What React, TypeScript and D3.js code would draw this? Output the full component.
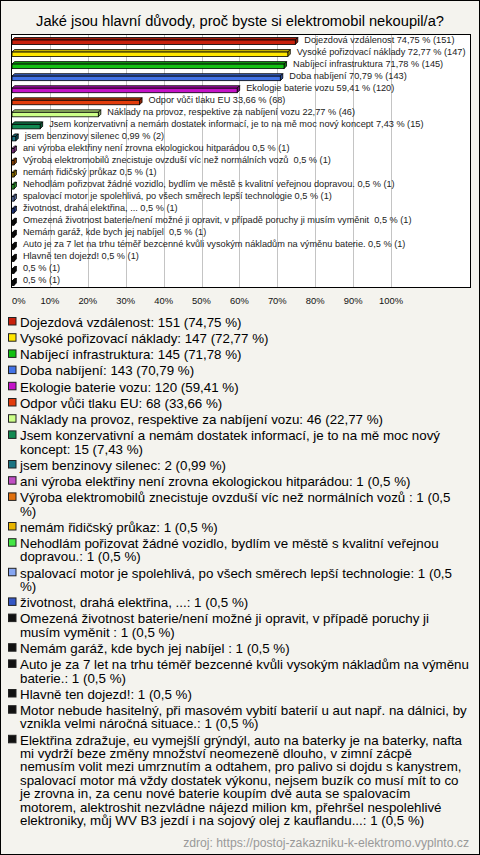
import React, { useMemo } from 'react';
import * as d3 from 'd3';

const WIDTH = 480;
const HEIGHT = 855;

const title = 'Jaké jsou hlavní důvody, proč byste si elektromobil nekoupil/a?';

const categories = [
  'Dojezdová vzdálenost',
  'Vysoké pořizovací náklady',
  'Nabíjecí infrastruktura',
  'Doba nabíjení',
  'Ekologie baterie vozu',
  'Odpor vůči tlaku EU',
  'Náklady na provoz, respektive za nabíjení vozu',
  'Jsem konzervativní a nemám dostatek informací, je to na mě moc nový koncept',
  'jsem benzinovy silenec',
  'ani výroba elektřiny není zrovna ekologickou hitparádou',
  'Výroba elektromobilů znecistuje ovzduší víc než normálních vozů ',
  'nemám řidičský průkaz',
  'Nehodlám pořizovat žádné vozidlo, bydlím ve městě s kvalitní veřejnou dopravou.',
  'spalovací motor je spolehlivá, po všech směrech lepší technologie',
  'životnost, drahá elektřina, ...',
  'Omezená životnost baterie/není možné ji opravit, v případě poruchy ji musím vyměnit ',
  'Nemám garáž, kde bych jej nabíjel ',
  'Auto je za 7 let na trhu téměř bezcenné kvůli vysokým nákladům na výměnu baterie.',
  'Hlavně ten dojezd!',
  'Motor nebude hasitelný, při masovém vybití baterií u aut např. na dálnici, by vznikla velmi náročná situace.',
  'Elektřina zdražuje, eu vymejšlí grýndýl, auto na baterky je na baterky, nafta mi vydrží beze změny množství neomezeně dlouho, v zimní zácpě nemusím volit mezi umrznutím a odtahem, pro palivo si dojdu s kanystrem, spalovací motor má vždy dostatek výkonu, nejsem buzík co musí mít to co je zrovna in, za cenu nové baterie koupím dvě auta se spalovacím motorem, alektroshit nezvládne nájezd milion km, přehršel nespolehlivé elektroniky, můj WV B3 jezdí i na sojový olej z kauflandu...',
];

// labels shown next to bars (long answers omitted in the chart)
const barLabels = [
  'Dojezdová vzdálenost',
  'Vysoké pořizovací náklady',
  'Nabíjecí infrastruktura',
  'Doba nabíjení',
  'Ekologie baterie vozu',
  'Odpor vůči tlaku EU',
  'Náklady na provoz, respektive za nabíjení vozu',
  'Jsem konzervativní a nemám dostatek informací, je to na mě moc nový koncept',
  'jsem benzinovy silenec',
  'ani výroba elektřiny není zrovna ekologickou hitparádou',
  'Výroba elektromobilů znecistuje ovzduší víc než normálních vozů ',
  'nemám řidičský průkaz',
  'Nehodlám pořizovat žádné vozidlo, bydlím ve městě s kvalitní veřejnou dopravou.',
  'spalovací motor je spolehlivá, po všech směrech lepší technologie',
  'životnost, drahá elektřina, ...',
  'Omezená životnost baterie/není možné ji opravit, v případě poruchy ji musím vyměnit ',
  'Nemám garáž, kde bych jej nabíjel ',
  'Auto je za 7 let na trhu téměř bezcenné kvůli vysokým nákladům na výměnu baterie.',
  'Hlavně ten dojezd!',
  '',
  '',
];

const counts = [151, 147, 145, 143, 120, 68, 46, 15, 2, 1, 1, 1, 1, 1, 1, 1, 1, 1, 1, 1, 1];
const percents = [74.75, 72.77, 71.78, 70.79, 59.41, 33.66, 22.77, 7.43, 0.99, 0.5, 0.5, 0.5, 0.5, 0.5, 0.5, 0.5, 0.5, 0.5, 0.5, 0.5, 0.5];

const colors = [
  '#c8200c', '#ffe600', '#12c012', '#4272e6', '#c412c8', '#e23c0c', '#ccff88', '#128a52',
  '#1c7482', '#c04ec4', '#e0700e', '#e8b400', '#44e644', '#86a6f2', '#3456c4',
  '#111111', '#111111', '#111111', '#111111', '#111111', '#111111',
];

const ticks = [0, 10, 20, 30, 40, 50, 60, 70, 80, 90, 100];
const source = 'zdroj: https://postoj-zakazniku-k-elektromo.vyplnto.cz';

const FONT = "'Liberation Sans', Arial, sans-serif";
const fmt = (v: number) => String(v).replace('.', ',');

const LEGEND_FONT_SIZE = 13.33;
const LEGEND_TEXT_X = 20;
const LEGEND_MAX_W = 450;
// items whose last word wraps onto its own line in the original (sub-pixel metric differences)
const LEGEND_FORCE_LAST_WORD_WRAP = new Set([10]);
const LINE_H = 13.4;
const ITEM_GAP = 2.8;

function wrap(text: string, maxW: number, font: string, forceLast: boolean): string[] {
  const canvas = document.createElement('canvas');
  const ctx = canvas.getContext('2d')!;
  ctx.font = font;
  const words = text.split(' ');
  const tail = forceLast ? words.pop() : undefined;
  const lines: string[] = [];
  let cur = '';
  for (const w of words) {
    const test = cur === '' ? w : cur + ' ' + w;
    if (ctx.measureText(test).width > maxW && cur !== '') {
      lines.push(cur);
      cur = w;
    } else {
      cur = test;
    }
  }
  if (cur !== '') lines.push(cur);
  if (tail !== undefined) lines.push(tail);
  return lines;
}

export default function App() {
  const plot = { left: 11.5, top: 34.5, right: 470.5, bottom: 287.5 };
  const x = d3.scaleLinear().domain([0, 100]).range([12, 391]);
  const y = d3
    .scaleBand<number>()
    .domain(d3.range(categories.length))
    .range([34, 287])
    .padding(0);
  const bw = y.bandwidth();
  const depth = 2.5;
  const barH = 4.5;

  const legend = useMemo(() => {
    const font = `${LEGEND_FONT_SIZE}px ${FONT}`;
    let cy = 322;
    return categories.map((c, i) => {
      const text = `${c}: ${counts[i]} (${fmt(percents[i])} %)`;
      const lines = wrap(text, LEGEND_MAX_W, font, LEGEND_FORCE_LAST_WORD_WRAP.has(i));
      const item = { lines, cy, color: colors[i] };
      cy += lines.length * LINE_H + ITEM_GAP;
      return item;
    });
  }, []);

  return (
    <svg
      width={WIDTH}
      height={HEIGHT}
      style={{ position: 'absolute', left: 0, top: 0, display: 'block' }}
      fontFamily={FONT}
    >
      <rect x={0.5} y={0.5} width={WIDTH - 1} height={HEIGHT - 1} fill="#f4f3ee" stroke="#000" />
      <text x={240} y={25.5} textAnchor="middle" fontSize={14.67} fill="#000">
        {title}
      </text>

      <rect
        x={plot.left}
        y={plot.top}
        width={plot.right - plot.left}
        height={plot.bottom - plot.top}
        fill="#fff"
        stroke="#000"
      />
      {ticks.slice(1).map((t) => (
        <line
          key={t}
          x1={Math.round(x(t)) + 0.5}
          x2={Math.round(x(t)) + 0.5}
          y1={plot.top + 0.5}
          y2={plot.bottom - 0.5}
          stroke="#c4c4c4"
        />
      ))}

      {percents.map((p, i) => {
        const c = (y(i) as number) + bw / 2;
        const x0 = x(0);
        const x1 = x(p);
        const base = d3.color(colors[i])!;
        const top = base.darker(0.6).formatHex();
        const side = base.darker(1.2).formatHex();
        const lbl = barLabels[i]
          ? `${barLabels[i]} ${fmt(p)} % (${counts[i]})`
          : `${fmt(p)} % (${counts[i]})`;
        return (
          <g key={i}>
            <polygon
              points={`${x0},${c} ${x0 + depth},${c - depth} ${x1 + depth},${c - depth} ${x1},${c}`}
              fill={top}
              stroke="#000"
              strokeWidth={0.8}
            />
            <polygon
              points={`${x1},${c} ${x1 + depth},${c - depth} ${x1 + depth},${c - depth + barH} ${x1},${c + barH}`}
              fill={side}
              stroke="#000"
              strokeWidth={0.8}
            />
            <rect x={x0} y={c} width={x1 - x0} height={barH} fill={colors[i]} stroke="#000" strokeWidth={0.8} />
            <text
              x={x1 + depth + 6.5}
              y={c + 2.5}
              fontSize={9.2}
              fill="#222"
              style={{ whiteSpace: 'pre' }}
            >
              {lbl}
            </text>
          </g>
        );
      })}

      {ticks.map((t) => (
        <text
          key={t}
          x={t === 0 ? 12 : x(t)}
          y={304}
          fontSize={9.4}
          textAnchor={t === 0 ? 'start' : 'middle'}
          fill="#111"
        >
          {`${t}%`}
        </text>
      ))}

      {legend.map((item, i) => (
        <g key={i}>
          <rect x={8.5} y={item.cy - 4.5} width={7.5} height={7.5} fill={item.color} stroke="#222" />
          {item.lines.map((ln, j) => (
            <text
              key={j}
              x={LEGEND_TEXT_X}
              y={item.cy + 4.8 + j * LINE_H}
              fontSize={LEGEND_FONT_SIZE}
              fill="#000"
              style={{ whiteSpace: 'pre' }}
            >
              {ln}
            </text>
          ))}
        </g>
      ))}

      <text x={469} y={847} textAnchor="end" fontSize={12.2} fill="#999">
        {source}
      </text>
    </svg>
  );
}
